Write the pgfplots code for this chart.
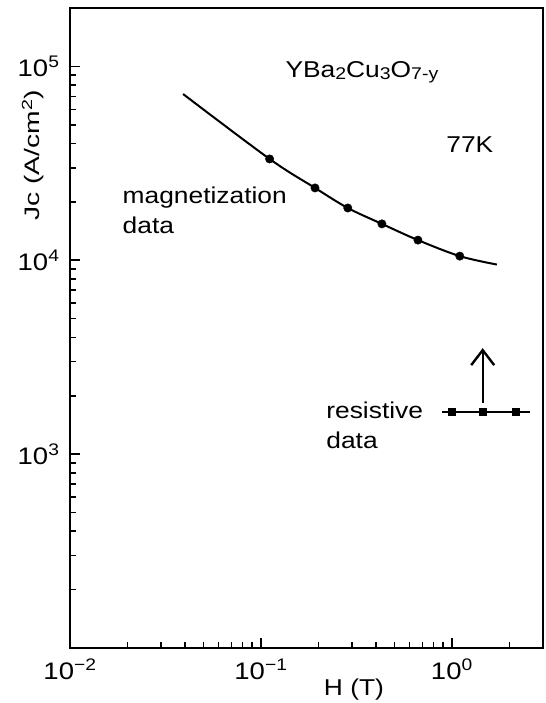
\documentclass[border=0pt]{standalone}
\usepackage{fontspec}
\setmainfont{Liberation Sans}[FakeStretch=1.15]
\newfontfamily\ylabfont{Liberation Sans}[FakeStretch=1.35]
\usepackage{pgfplots}
\pgfplotsset{compat=1.18}
\usetikzlibrary{arrows.meta}

\newcommand{\tl}[1]{10\textsuperscript{#1}}
\newcommand{\fs}{\fontsize{23}{27}\selectfont}
\newcommand{\sub}[1]{\raisebox{-0.12em}{\fontsize{17}{20}\selectfont #1}}

\begin{document}
\begin{tikzpicture}
\begin{axis}[
    scale only axis,
    width = 473bp, height = 640bp,
    xmode = log, ymode = log,
    xmin = 0.01, xmax = 3,
    ymin = 100, ymax = 2e5,
    axis line style = {line width=2.6bp},
    xtick = {0.01,0.1,1},
    xticklabels = {\tl{−2},\tl{−1},\tl{0}},
    minor xtick = {0.02,0.03,0.04,0.05,0.06,0.07,0.08,0.09,0.2,0.3,0.4,0.5,0.6,0.7,0.8,0.9,2,3},
    ytick = {1e3,1e4,1e5},
    yticklabels = {\tl{3},\tl{4},\tl{5}},
    minor ytick = {200,300,400,500,600,700,800,900,2000,3000,4000,5000,6000,7000,8000,9000,2e4,3e4,4e4,5e4,6e4,7e4,8e4,9e4},
    xtick pos = lower, ytick pos = lower,
    tick align = inside,
    major tick length = 10bp, minor tick length = 6bp,
    tick style = {black, line width=1.6bp},
    tick label style = {font=\fontsize{24}{28}\selectfont},
    xticklabel style = {yshift=-7bp},
    yticklabel style = {xshift=-7bp},
]

% magnetization data
\addplot[black, line width=2bp, smooth, tension=0.55]
    coordinates {(0.0391,7.2e4) (0.111,3.33e4) (0.192,2.36e4) (0.285,1.86e4)
                 (0.430,1.54e4) (0.664,1.27e4) (1.10,1.05e4) (1.72,9.5e3)};
\addplot[only marks, mark=*, mark size=4.2bp, black]
    coordinates {(0.111,3.33e4) (0.192,2.36e4) (0.285,1.86e4)
                 (0.430,1.54e4) (0.664,1.27e4) (1.10,1.05e4)};

% resistive data
\addplot[black, line width=1.8bp] coordinates {(0.887,1650) (2.56,1650)};
\addplot[only marks, mark=square*, mark size=3.5bp, black]
    coordinates {(1.00,1650) (1.45,1650) (2.16,1650)};
\addplot[black, line width=2.2bp, -{Straight Barb[length=15bp, width=23bp, line width=2.4bp]}]
    coordinates {(1.45,1840) (1.45,3520)};

\node[anchor=base west, font=\fs] at (axis cs:0.129,8.8e4)
    {YBa\sub{2}Cu\sub{3}O\sub{7-y}};
\node[anchor=base west, font=\fs] at (axis cs:0.897,3.61e4) {77K};
\node[anchor=base west, font=\fs] at (axis cs:0.0181,1.97e4) {magnetization};
\node[anchor=base west, font=\fs] at (axis cs:0.0181,1.38e4) {data};
\node[anchor=base west, font=\fs] at (axis cs:0.211,1530) {resistive};
\node[anchor=base west, font=\fs] at (axis cs:0.211,1074) {data};

\coordinate (yl) at (rel axis cs:0,0.77);
\coordinate (xl) at (axis cs:0.307,100);
\end{axis}
\node[rotate=90, font=\ylabfont\fontsize{21}{25}\selectfont]
    at ([xshift=-37bp]yl) {Jc (A/cm\textsuperscript{2})};
\node[anchor=base, font=\fs] at ([yshift=-47bp]xl) {H (T)};
\pgfresetboundingbox
\path[use as bounding box] (-70bp,-55bp) rectangle (476bp,648bp);
\end{tikzpicture}
\end{document}
